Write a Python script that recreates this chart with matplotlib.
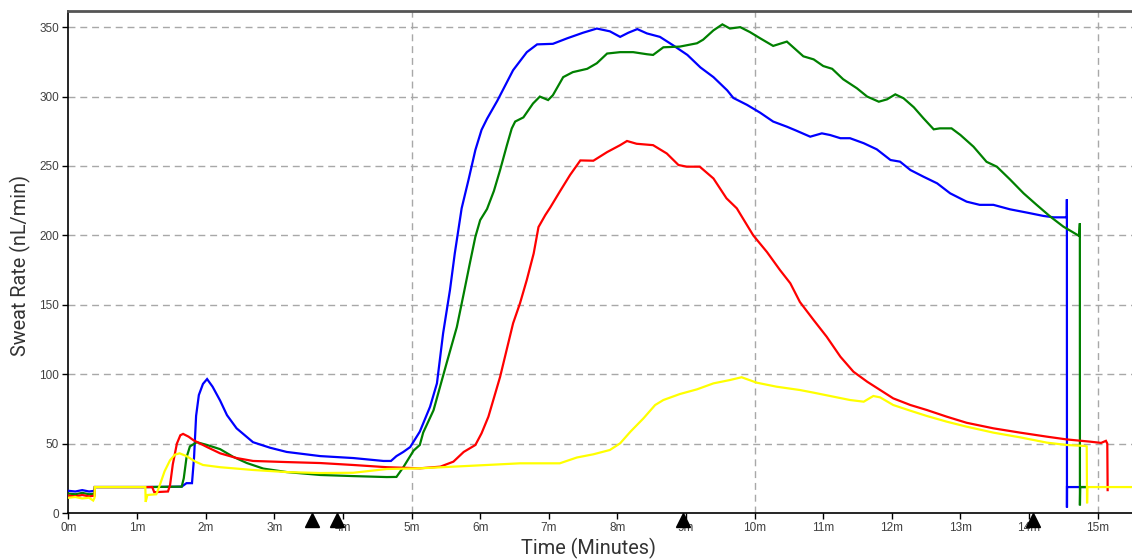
import matplotlib
matplotlib.use("Agg")
import matplotlib.pyplot as plt
import matplotlib.transforms as mtransforms

# ---------------- data ----------------
blue_t = [0.0, 0.1, 0.2, 0.3, 0.38, 0.385, 1.12, 1.65, 1.72, 1.80, 1.83, 1.86, 1.90, 1.96, 2.02,
          2.10, 2.21, 2.31, 2.45, 2.69, 2.94, 3.18, 3.67, 4.15, 4.59, 4.70, 4.78, 4.88, 4.98,
          5.12, 5.27, 5.37, 5.46, 5.56, 5.63, 5.73, 5.83, 5.93, 6.02, 6.10, 6.25, 6.48, 6.68,
          6.83, 7.06, 7.27, 7.50, 7.70, 7.89, 8.04, 8.16, 8.29, 8.43, 8.62, 8.81, 9.02, 9.21,
          9.40, 9.60, 9.69, 9.89, 10.08, 10.27, 10.47, 10.61, 10.81, 10.98, 11.10, 11.25,
          11.39, 11.59, 11.78, 11.98, 12.12, 12.27, 12.46, 12.66, 12.85, 13.09, 13.28, 13.48,
          13.72, 13.97, 14.21, 14.36, 14.55, 14.551, 14.552, 14.553, 14.83]
blue_v = [16, 15.5, 16.5, 15.5, 16, 18.7, 18.7, 19, 21.5, 21.5, 40, 70, 85, 93, 96.5,
          91, 81, 70.5, 61, 51, 47, 44, 41, 39.6, 37.5, 37.5, 41, 44, 47.5,
          58.6, 76.6, 93.4, 129.5, 160.7, 187, 219.5, 240, 261.5, 276, 284, 297, 319, 332,
          337.6, 338, 342, 346, 349, 347, 343, 346, 348.6, 345.5, 343, 337, 330, 321,
          314, 304.5, 299, 294, 288.4, 282, 278.3, 275.4, 271.1, 273.5, 272.3, 270,
          270, 266.4, 262, 254.3, 253.1, 247.1, 242.3, 237.5, 230.3, 224.3, 222, 222,
          218.8, 216.4, 214, 213, 213, 226, 4, 18.7, 18.7]

green_t = [0.0, 0.1, 0.2, 0.3, 0.38, 0.385, 1.12, 1.65, 1.68, 1.72, 1.77, 1.87, 2.02, 2.21,
           2.40, 2.60, 2.84, 3.18, 3.67, 4.15, 4.64, 4.78, 4.88, 5.03, 5.12, 5.17, 5.32, 5.51,
           5.66, 5.76, 5.85, 5.93, 6.00, 6.10, 6.20, 6.29, 6.39, 6.46, 6.51, 6.63, 6.77, 6.87,
           6.99, 7.06, 7.21, 7.35, 7.56, 7.70, 7.85, 8.04, 8.23, 8.43, 8.52, 8.67, 8.91, 9.16,
           9.25, 9.40, 9.53, 9.64, 9.79, 9.93, 10.08, 10.27, 10.47, 10.71, 10.86, 11.00, 11.13,
           11.29, 11.49, 11.64, 11.81, 11.93, 12.05, 12.17, 12.32, 12.46, 12.61, 12.70, 12.87,
           13.00, 13.19, 13.38, 13.53, 13.72, 13.92, 14.11, 14.31, 14.50, 14.73, 14.74, 14.741,
           14.745, 14.83]
green_v = [14, 13.5, 14.5, 13.5, 14, 18.7, 18.7, 19, 25, 40, 48, 51, 49, 46,
           40.5, 36, 32, 29.5, 27.4, 26.6, 25.9, 26, 33, 45, 49, 58, 74, 107.8,
           134, 158, 180, 199, 211, 219, 232, 247, 265, 277, 282, 285, 295, 300,
           297.5, 301, 314, 317.6, 320, 324, 331, 332, 332, 330.5, 330, 335.5, 336, 338.4,
           341, 347.7, 352, 349, 350, 346.5, 342, 336.5, 339.6, 329, 326.8, 322, 320,
           312.5, 306, 300, 296.3, 298, 301.6, 298.8, 292.3, 284.4, 276.4, 277.1, 277.1,
           272.3, 263.9, 253, 249.5, 240.4, 230.3, 222, 213.5, 206.3, 199.6, 208.7, 5.5,
           18.7, 18.7]

red_t = [0.0, 0.1, 0.2, 0.3, 0.38, 0.385, 1.12, 1.22, 1.25, 1.45, 1.48, 1.52, 1.58, 1.63,
         1.67, 1.75, 1.82, 2.02, 2.21, 2.45, 2.69, 3.18, 3.67, 4.15, 4.64, 5.12, 5.42, 5.61,
         5.76, 5.93, 6.02, 6.12, 6.29, 6.48, 6.58, 6.68, 6.78, 6.85, 6.95, 7.02, 7.16, 7.31,
         7.46, 7.65, 7.85, 8.04, 8.14, 8.28, 8.52, 8.72, 8.89, 9.01, 9.20, 9.40, 9.59, 9.74,
         9.98, 10.18, 10.37, 10.52, 10.66, 10.86, 11.05, 11.25, 11.44, 11.64, 11.83, 12.02,
         12.27, 12.51, 12.80, 13.09, 13.48, 13.87, 14.26, 14.55, 14.89, 15.05, 15.12, 15.14,
         15.145]
red_v = [12.5, 12, 13, 12, 12.5, 18.7, 18.7, 18.7, 15, 15.5, 20, 35, 50, 56,
         57, 55, 52.5, 47.5, 43, 39.6, 37.5, 36.7, 36, 34.6, 33, 32.2, 33.4, 37,
         44, 49, 57.4, 69.4, 98, 136.7, 151, 168, 187, 206, 214.7, 220, 231.5, 243.5,
         254, 253.8, 260, 265, 268, 266, 265, 259, 250.7, 249.5, 249.5, 241, 226.7, 219.5,
         200, 188, 175, 165.5, 152, 139, 127, 112.6, 101.8, 94.6, 88.6, 82.6,
         77.8, 74.2, 69.4, 65, 61, 57.9, 55, 53, 51.4, 50.5, 52, 50,
         16.5]

yellow_t = [0.0, 0.1, 0.2, 0.3, 0.36, 0.38, 0.385, 1.12, 1.125, 1.15, 1.28, 1.33, 1.40, 1.48,
            1.55, 1.62, 1.72, 1.85, 1.96, 2.21, 2.69, 3.18, 3.67, 4.15, 4.64, 5.12, 5.61,
            6.10, 6.58, 7.16, 7.41, 7.65, 7.89, 8.04, 8.19, 8.38, 8.55, 8.67, 8.91, 9.16,
            9.40, 9.64, 9.81, 10.03, 10.32, 10.66, 10.86, 11.15, 11.39, 11.59, 11.73, 11.83,
            12.02, 12.27, 12.51, 12.80, 13.09, 13.48, 13.87, 14.26, 14.55, 14.82, 14.84,
            14.845, 14.85, 15.5]
yellow_v = [11, 11.5, 10.5, 11, 9, 11, 18.7, 18.7, 8, 13, 13.5, 20, 30, 38,
            42, 43, 41, 37, 34.6, 33, 31, 29.5, 28.8, 29, 31.7, 32.2, 33.4,
            34.6, 35.8, 35.8, 40, 42.3, 45.4, 50.2, 58.6, 68.2, 77.8, 81.4, 85.7, 89.1,
            93.4, 95.8, 97.8, 93.9, 91, 88.6, 86.7, 83.8, 81.4, 80.2, 84.3, 83.3,
            77.8, 73.7, 69.9, 65.8, 62.2, 57.9, 54.5, 50.7, 49, 48.3, 48,
            7, 18.7, 18.7]

x_ticks = list(range(0, 16))
x_tick_labels = [f"{m}m" for m in x_ticks]
y_ticks = [0, 50, 100, 150, 200, 250, 300, 350]
event_markers = [3.55, 3.91, 8.95, 14.05]

# ---------------- figure ----------------
W, H = 1132, 560
fig = plt.figure(figsize=(W / 100, H / 100), dpi=100)
ax = fig.add_axes([0.0605, 0.0839, 0.9395, 0.8966])
ax.set_xlim(0, 15.5)
ax.set_ylim(0, 361.7)

series = [(blue_t, blue_v, "#0000ff"), (green_t, green_v, "#008000"),
          (red_t, red_v, "#ff0000"), (yellow_t, yellow_v, "#ffff00")]
for i, (t, v, c) in enumerate(series):
    ax.plot(t, v, color=c, lw=1.6, zorder=3 + i, solid_joinstyle="miter")

# grid
for yv in y_ticks[1:]:
    ax.axhline(yv, color="#a8a8a8", lw=1.0, ls=(0, (5, 3.5)), zorder=1)
for xv in [5, 10, 15]:
    ax.axvline(xv, color="#a8a8a8", lw=1.0, ls=(0, (5, 3.5)), zorder=1)

ax.set_xticks(x_ticks)
ax.set_xticklabels(x_tick_labels)
ax.set_yticks(y_ticks)
ax.tick_params(axis="both", direction="out", length=4.3, width=1, color="black",
               labelsize=8.5, labelcolor="#404040", pad=2.5)
for lab in ax.get_xticklabels() + ax.get_yticklabels():
    lab.set_fontfamily("Liberation Sans")

ax.spines["right"].set_visible(False)
ax.spines["top"].set_color("#555555")
ax.spines["top"].set_linewidth(2.0)
ax.spines["left"].set_color("black")
ax.spines["left"].set_linewidth(1.2)
ax.spines["bottom"].set_color("black")
ax.spines["bottom"].set_linewidth(1.2)

# axis titles placed at their reference pixel centres
fig.text(588.5 / W, 1 - 548 / H, "Time (Minutes)", fontsize=14.3, color="#333333",
         family="Roboto", ha="center", va="center")
fig.text(20 / W, 1 - 265 / H, "Sweat Rate (nL/min)", fontsize=14.3, color="#333333",
         family="Roboto", ha="center", va="center", rotation=90)

# event triangles just below the axis
trans = mtransforms.offset_copy(ax.transData, fig=fig, x=0, y=-5.2, units="points")
ax.plot(event_markers, [0] * len(event_markers), linestyle="none", marker="^",
        markersize=10, color="black", transform=trans, clip_on=False, zorder=10)

fig.savefig("out.png", dpi=100)
